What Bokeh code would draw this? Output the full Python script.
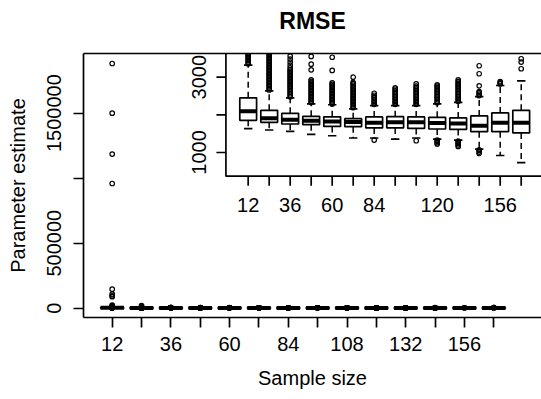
import math
from bokeh.plotting import figure
from bokeh.models import Range1d, FixedTicker, ColumnDataSource, BasicTickFormatter, LinearAxis
from bokeh.core.properties import value
from bokeh.embed import file_html
from bokeh.resources import INLINE

# ---------------- data ----------------
title_text = "RMSE"
x_label = "Sample size"
y_label = "Parameter estimate"

sample_sizes = [12, 24, 36, 48, 60, 72, 84, 96, 108, 120, 132, 144, 156, 168]
main_x_labels = [12, 36, 60, 84, 108, 132, 156]
inset_x_labels = [12, 36, 60, 84, 120, 156]
main_y_ticks = [0, 500000, 1000000, 1500000]
main_y_labels = ["0", "500000", "", "1500000"]
inset_y_ticks = [1000, 2000, 3000]
inset_y_labels = ["1000", "", "3000"]

whisk_lo = [1632, 1597, 1560, 1480, 1445, 1384, 1384, 1357, 1384, 1357, 1330, 1091, 920, 730]
q1 = [1853, 1800, 1757, 1739, 1693, 1685, 1651, 1651, 1640, 1624, 1613, 1552, 1552, 1520]
median = [2093, 1907, 1872, 1845, 1823, 1811, 1792, 1800, 1800, 1784, 1773, 1712, 1792, 1792]
q3 = [2451, 2120, 2040, 1960, 1948, 1899, 1944, 1952, 1944, 1933, 1917, 1971, 2051, 2120]
whisk_hi = [3320, 2637, 2451, 2290, 2268, 2160, 2245, 2245, 2245, 2290, 2333, 2486, 2779, 2900]

out_12 = [1882000, 1500000, 1185000, 959000, 146000, 108000, 95000, 88000, 23000, 17000,
          12000, 8000, 5000, 3360, 3400, 3440, 3480, 3520, 3560, 3600, 3640]
out_24 = [20000, 9000, 2660, 2700, 2740, 2780, 2820, 2860, 2900, 2940, 2980, 3020, 3060, 3100,
          3140, 3180, 3220, 3260, 3300, 3340, 3380, 3420, 3460, 3500, 3540, 3580, 3620, 3660]
out_36 = [2480, 2520, 2560, 2600, 2640, 2680, 2720, 2760, 2800, 2840, 2880, 2920, 2960, 3000,
          3040, 3080, 3120, 3160, 3200, 3250, 3320, 3400, 3480, 3560]
out_48 = [2330, 2370, 2410, 2450, 2490, 2530, 2570, 2610, 2650, 2690, 2730, 2770, 2810, 2850,
          2890, 2930, 3196, 3345, 3550]
out_60 = [2290, 2330, 2370, 2410, 2450, 2490, 2530, 2570, 2610, 2650, 2690, 2730, 2770, 2810,
          2850, 3180, 3530]
out_72 = [2190, 2230, 2270, 2310, 2350, 2390, 2430, 2470, 2510, 2550, 2590, 2630, 2670, 2710,
          2750, 2790, 2830, 2860, 3000]
out_84 = [1330, 2280, 2320, 2360, 2400, 2440, 2480, 2520, 2573]
out_96 = [2280, 2320, 2360, 2400, 2440, 2480, 2520, 2560, 2600, 2640, 2680, 2717]
out_108 = [1312, 2280, 2320, 2360, 2400, 2440, 2480, 2520, 2560, 2600, 2640, 2680, 2720,
           2760, 2823]
out_120 = [1224, 1260, 1300, 1330, 2320, 2360, 2400, 2440, 2480, 2520, 2560, 2600, 2640,
           2680, 2720, 2760, 2797]
out_132 = [1160, 1200, 1240, 1280, 1305, 2360, 2400, 2440, 2480, 2520, 2560, 2600, 2640,
           2680, 2720, 2760, 2800, 2840, 2880, 2931]
out_144 = [973, 1010, 1050, 1070, 2510, 2550, 2590, 2619, 2771, 3091, 3304]
out_156 = [2820, 2850, 2880]
out_168 = [3224, 3400, 3490]

outliers = [out_12, out_24, out_36, out_48, out_60, out_72, out_84, out_96, out_108,
            out_120, out_132, out_144, out_156, out_168]

# ---------------- layout ----------------
W, H = 541, 399
FL, FT, FR, FB = 83, 53, 541, 317
FW, FH = FR - FL, FB - FT
FONT = "Liberation Sans"
FS = "20px"
LW = 1.7

main_x = (0.27, 187.5)
main_y = (-72000, 1959000)
ins_x = (-82.1, 179.6)
ins_y = (-3383, 3629)
ins_left = -0.72
ins_bottom = 370


def ix_at(px):
    return ins_x[0] + (px - FL) * (ins_x[1] - ins_x[0]) / FW


def iy_at(px):
    return ins_y[1] - (px - FT) * (ins_y[1] - ins_y[0]) / FH


p = figure(width=W, height=H, output_backend="svg", toolbar_location=None,
           x_range=Range1d(*main_x), y_range=Range1d(*main_y),
           min_border_left=FL, min_border_right=W - FR, min_border_top=FT,
           min_border_bottom=H - FB)
p.extra_x_ranges = {"ix": Range1d(*ins_x)}
p.extra_y_ranges = {"iy": Range1d(*ins_y)}
p.grid.visible = False
p.outline_line_color = None
p.background_fill_color = "white"
p.border_fill_color = "white"

for ax in (p.xaxis[0], p.yaxis[0]):
    ax.axis_line_width = LW
    ax.axis_line_color = "black"
    ax.major_tick_line_width = LW
    ax.major_tick_line_color = "black"
    ax.major_tick_out = 10
    ax.major_tick_in = 0
    ax.minor_tick_line_color = None
    ax.major_label_text_font = FONT
    ax.major_label_text_font_size = FS
    ax.major_label_text_color = "black"
    ax.axis_label_text_font = FONT
    ax.axis_label_text_font_size = FS
    ax.axis_label_text_font_style = "normal"
    ax.axis_label_text_color = "black"

xa = p.xaxis[0]
xa.ticker = FixedTicker(ticks=sample_sizes)
xa.major_label_overrides = {s: (str(s) if s in main_x_labels else "") for s in sample_sizes}
xa.axis_label = x_label
xa.major_label_standoff = 9
xa.axis_label_standoff = 13

ya = p.yaxis[0]
ya.ticker = FixedTicker(ticks=main_y_ticks)
ya.formatter = BasicTickFormatter(use_scientific=False)
ya.major_label_overrides = {t: l for t, l in zip(main_y_ticks, main_y_labels)}
ya.major_label_orientation = "vertical"
ya.axis_label = y_label
ya.major_label_standoff = 12
ya.axis_label_standoff = 16

# top frame line + title (as the label of a tick-less top axis)
top_ax = LinearAxis(ticker=FixedTicker(ticks=[]), axis_label=title_text,
                    axis_label_text_font=FONT, axis_label_text_font_size="23px",
                    axis_label_text_font_style="bold", axis_label_text_color="black",
                    axis_label_standoff=20, major_tick_out=0, major_tick_in=0,
                    major_label_standoff=0, major_label_text_font_size="0px",
                    major_tick_line_color=None, minor_tick_line_color=None,
                    axis_line_width=LW, axis_line_color="black")
p.add_layout(top_ax, "above")

HALF_BOX = 0.4 * 12
HALF_CAP = 0.2 * 12


def draw_boxplot(xr="default", yr="default"):
    src = ColumnDataSource(dict(
        x=sample_sizes, lo=whisk_lo, q1=q1, med=median, q3=q3, hi=whisk_hi,
        left=[s - HALF_BOX for s in sample_sizes], right=[s + HALF_BOX for s in sample_sizes],
        cl=[s - HALF_CAP for s in sample_sizes], cr=[s + HALF_CAP for s in sample_sizes]))
    kw = dict(source=src, x_range_name=xr, y_range_name=yr)
    p.segment(x0="x", y0="q3", x1="x", y1="hi", line_color="black", line_width=1.5,
              line_dash="6 4", **kw)
    p.segment(x0="x", y0="q1", x1="x", y1="lo", line_color="black", line_width=1.5,
              line_dash="6 4", **kw)
    p.segment(x0="cl", y0="hi", x1="cr", y1="hi", line_color="black", line_width=LW, **kw)
    p.segment(x0="cl", y0="lo", x1="cr", y1="lo", line_color="black", line_width=LW, **kw)
    p.quad(left="left", right="right", bottom="q1", top="q3", fill_color="white",
           line_color="black", line_width=LW, **kw)
    p.segment(x0="left", y0="med", x1="right", y1="med", line_color="black",
              line_width=4, **kw)
    ox, oy = [], []
    for s, vals in zip(sample_sizes, outliers):
        ox += [s] * len(vals)
        oy += vals
    p.scatter(x=ox, y=oy, marker="circle", size=4.5, fill_color=None, line_color="black",
              line_width=1.2, x_range_name=xr, y_range_name=yr)


# main plot
draw_boxplot()

# inset background / frame
p.quad(left=[ins_left], right=[ins_x[1] + 20], bottom=[ins_bottom], top=[ins_y[1] + 200],
       fill_color="white", line_color="black", line_width=LW,
       x_range_name="ix", y_range_name="iy")

draw_boxplot("ix", "iy")

# inset axes (ticks and labels)
tick_y1 = iy_at(FT + (ins_y[1] - ins_bottom) * FH / (ins_y[1] - ins_y[0]) + 9.5)
p.segment(x0=sample_sizes, y0=[ins_bottom] * len(sample_sizes), x1=sample_sizes,
          y1=[tick_y1] * len(sample_sizes), line_color="black", line_width=LW,
          x_range_name="ix", y_range_name="iy")
p.text(x=inset_x_labels, y=[iy_at(204)] * len(inset_x_labels),
       text=[str(v) for v in inset_x_labels], text_font=value(FONT),
       text_font_size=value(FS), text_color="black", text_align="center",
       text_baseline="alphabetic", x_range_name="ix", y_range_name="iy")

left_px = FL + (ins_left - ins_x[0]) * FW / (ins_x[1] - ins_x[0])
p.segment(x0=[ins_left] * 3, y0=inset_y_ticks, x1=[ix_at(left_px - 9.5)] * 3, y1=inset_y_ticks,
          line_color="black", line_width=LW, x_range_name="ix", y_range_name="iy")
lab_t = [t for t, l in zip(inset_y_ticks, inset_y_labels) if l]
lab_l = [l for l in inset_y_labels if l]
p.text(x=[ix_at(198)] * len(lab_t), y=lab_t, text=lab_l, angle=math.pi / 2,
       text_font=value(FONT), text_font_size=value(FS), text_color="black",
       text_align="center", text_baseline="alphabetic", x_range_name="ix", y_range_name="iy")

open("out.html", "w").write(file_html(p, INLINE))
